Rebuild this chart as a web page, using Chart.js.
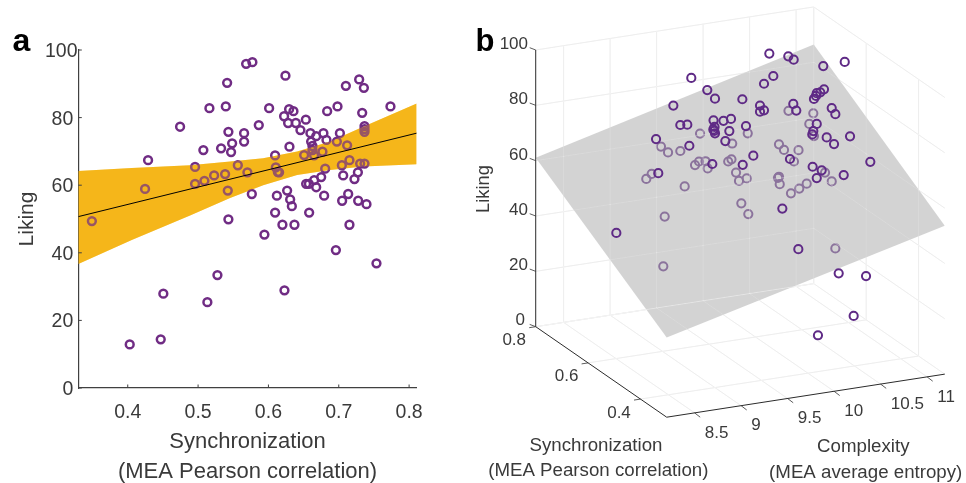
<!DOCTYPE html>
<html><head><meta charset="utf-8">
<style>html,body{margin:0;padding:0;background:#fff}canvas{position:absolute;top:0}#ca{left:0}#cb{left:470px}</style>
<script src="https://cdn.jsdelivr.net/npm/chart.js@4"></script>
</head><body>
<canvas id="ca" width="470" height="483"></canvas>
<canvas id="cb" width="496" height="483"></canvas>
<script>
// ---------- Panel a data ----------
const aSync=[.349,.4246,.4289,.4744,.4957,.4957,.509,.5228,.5384,.5422,.5431,.5565,.5075,.5327,.5469,.5484,.5654,.5654,.5431,.5161,.5394,.5413,.5683,.5701,.5764,.5772,.6242,.601,.5863,.6095,.6299,.6105,.6134,.6152,.6266,.612,.6309,.6333,.6095,.6199,.637,.5943,.6579,.6792,.6536,.6575,.665,.6679,.675,.6807,.6508,.665,.6768,.6626,.6626,.6607,.6597,.6679,.6782,.6825,.6973,.7016,.7119,.7044,.7152,.7063,.7223,.7272,.7304,.7366,.7134,.7048,.7276,.7394,.7152,.6959,.7536,.7366,.7366,.7366,.7333,.7735,.6982,.6835,.6532,.639,.628,.6455,.6223,.6294,.6356,.7101,.729,.7357,.4028,.4469,.4506,.5132,.5275,.6228];
const aLiking=[49.4,58.9,67.4,77.3,65.4,60.4,61.3,62.9,63.3,58.4,49.9,65.9,70.4,70.9,69.8,72.4,72.9,75.4,75.8,82.8,83.3,90.3,95.9,63.8,57.4,96.4,92.4,82.8,77.8,68.8,71.4,65.3,63.9,63.8,58.4,56.9,55.8,53.8,51.9,48.3,48.3,45.4,51.9,56.9,60.4,60.4,61.5,59.4,62.4,64.9,68.9,68.8,69.9,70.4,71.6,72.9,75.4,74.5,75.4,73.4,72.9,75.4,71.8,65.9,67.4,62.9,61.8,63.8,66.4,66.4,57.4,55.4,55.4,54.4,48.3,40.8,36.9,75.8,76.6,77.5,81.4,83.3,83.3,81.9,79.4,78.4,78.4,76.3,80.4,82.5,81.9,89.4,91.3,88.8,12.9,14.4,27.9,25.4,33.4,28.9];
const bandSync=[.3297,.4057,.4886,.5455,.5925,.6408,.6878,.7347,.8108];
const bandUpper=[64.2,65.1,65.9,67,68,70,72.9,77.3,84.2];
const bandLower=[36.7,43.8,51,56.2,60,63,64.5,65.5,66.2];
const fitSync=[.3297,.8108];
const fitLiking=[50.7,75.4];
const aSyncTicks=[.4,.5,.6,.7,.8];
const aLikingTicks=[0,20,40,60,80,100];

// ---------- Panel b data: each ring read on the back wall of the 3-D box
// (complexity along the wall, liking on the liking axis) ----------
const aboveComplexity=[9.873,10.045,10.128,9.68,9.755,9.83,10.112,10.11,10.12,10.128,9.494,9.852,9.518,10.099,9.067,10.712,10.916,10.974,11.292,11.523,10.755,10.655,10.422,11.3,11.26,11.222,11.214,11.192,10.612,10.612,10.655,10.97,11.002,11.383,11.422,10.219,10.3,10.461,10.282,10.239,11.222,11.185,11.174,11.329,11.408,11.58,10.54,10.426,10.934,11.178,11.275,11.222,11.512,11.798,10.852,11.024,11.458,11.752,11.619,11.235,10.123];
const aboveLiking=[89.9,85.5,82.4,79.9,72.9,73,74.6,71.3,70.8,69.9,67.8,65.4,55.5,58.8,33.9,98.7,97.7,96.5,94.2,95.7,90.6,87.8,82.2,85.8,84.7,84.4,83.4,82.3,79.9,77.7,78.2,80.5,78.1,79,76.8,74.4,75.1,72.5,70.7,67.1,73.3,70.7,69.5,68.4,66,68.8,61.8,58.5,60.6,57.8,56.5,53.7,54.8,59.6,42.7,28,19.3,18.3,3.9,-3.1,72.2];
const belowComplexity=[9.967,9.547,9.623,9.755,9.389,9.447,9.913,9.956,10.026,10.049,9.802,9.587,9.572,10.918,11.185,11.142,11.192,10.48,10.313,10.816,10.87,11.026,10.977,10.27,10.305,10.354,10.469,10.386,10.816,10.805,10.824,11.311,11.383,11.114,11.034,10.945,10.411,10.486,11.422];
const belowLiking=[69.8,65.1,63,63.5,53.4,55.2,58.4,59.7,59.8,57.2,50.7,39.8,21.8,78,77.1,73.3,68.9,69.9,66.2,65.9,63.9,63.8,59.7,59.7,60.5,55.7,53.6,52.7,54.2,53.8,51.5,55.7,52.5,51.7,49.9,48.2,44.6,40.7,28.3];
const planeCornerLiking={leftBack:61.1,rightBack:86.4,rightFront:53.6,leftFront:28.8};
const bLikingTicks=[0,20,40,60,80,100];
const bComplexityTicks=[8.5,9,9.5,10,10.5,11];
const bSyncTicks=[.4,.6,.8];
const complexityRange=[8.2,11.19];
const syncRange=[.3,.8];

const FONT='"Liberation Sans", Arial, sans-serif';
const TXT='#3a3a3a';

// ---------- Panel a ----------
const aTicks={id:'aTicks',afterDraw(c){
  const x=c.scales.x,y=c.scales.y,g=c.ctx,A=c.chartArea;
  g.save();g.strokeStyle='#404040';g.lineWidth=1;g.beginPath();
  aSyncTicks.forEach(v=>{const p=x.getPixelForValue(v);g.moveTo(p,A.bottom);g.lineTo(p,A.bottom-3.5);});
  aLikingTicks.forEach(v=>{const p=y.getPixelForValue(v);g.moveTo(A.left,p);g.lineTo(A.left+3.5,p);});
  g.stroke();
  g.fillStyle=TXT;g.textBaseline='middle';g.textAlign='right';g.font='19.5px '+FONT;
  g.fillText('100',77.5,y.getPixelForValue(100)+1.7);
  g.fillStyle='#000';g.textAlign='left';g.textBaseline='alphabetic';g.font='bold 32px '+FONT;
  g.fillText('a',12.5,51);
  g.restore();
}};
new Chart(document.getElementById('ca'),{
  type:'scatter',
  data:{datasets:[
    {label:'Fit',data:fitSync.map((v,i)=>({x:v,y:fitLiking[i]})),showLine:true,borderColor:'#000',borderWidth:1,pointRadius:0,order:0},
    {label:'Band veil upper',data:bandSync.map((v,i)=>({x:v,y:bandUpper[i]})),showLine:true,borderWidth:0,pointRadius:0,fill:'+1',backgroundColor:'rgba(245,183,27,.3)',order:1},
    {label:'Band veil lower',data:bandSync.map((v,i)=>({x:v,y:bandLower[i]})),showLine:true,borderWidth:0,pointRadius:0,order:1},
    {label:'Songs',data:aSync.map((v,i)=>({x:v,y:aLiking[i]})),pointRadius:3.9,pointBorderWidth:2.5,pointBorderColor:'#702c84',pointBackgroundColor:'rgba(0,0,0,0)',clip:false,order:2},
    {label:'Band upper',data:bandSync.map((v,i)=>({x:v,y:bandUpper[i]})),showLine:true,borderWidth:0,pointRadius:0,fill:'+1',backgroundColor:'#f5b71b',order:3},
    {label:'Band lower',data:bandSync.map((v,i)=>({x:v,y:bandLower[i]})),showLine:true,borderWidth:0,pointRadius:0,order:3}
  ]},
  options:{responsive:false,animation:false,
    layout:{autoPadding:false,padding:{top:50,right:53.3}},
    plugins:{legend:{display:false},tooltip:{enabled:false}},
    scales:{
      x:{type:'linear',min:.3297,max:.8108,
        afterBuildTicks:s=>{s.ticks=aSyncTicks.map(v=>({value:v}));},
        afterFit:s=>{s.height=95;},
        grid:{drawOnChartArea:false,drawTicks:false},
        border:{color:'#404040',width:1.2},
        ticks:{autoSkip:false,maxRotation:0,padding:13,color:TXT,font:{family:FONT,size:19.5},callback:v=>v.toFixed(1)},
        title:{display:true,text:['Synchronization','(MEA Pearson correlation)'],color:TXT,font:{family:FONT,size:22,lineHeight:'30px'},padding:{top:0,bottom:-4}}
      },
      y:{type:'linear',min:0,max:100,
        afterBuildTicks:s=>{s.ticks=aLikingTicks.map(v=>({value:v}));},
        afterFit:s=>{s.width=78.3;},
        grid:{drawOnChartArea:false,drawTicks:false},
        border:{color:'#404040',width:1.2},
        ticks:{autoSkip:false,padding:5,labelOffset:1.7,color:TXT,font:{family:FONT,size:19.5},callback:v=>v===100?'':String(v)},
        title:{display:true,text:'Liking',color:TXT,font:{family:FONT,size:21},padding:{top:15,bottom:0}}
      }
    }
  },
  plugins:[aTicks]
});

// ---------- Panel b ----------
const kU=262/93, kVc=14.4/2.767, kVs=181/2.767;
function proj(c,s,z){return {x:c+kU*(syncRange[1]-s),y:z+kVc*(c-complexityRange[0])-kVs*(syncRange[1]-s)};}
const [cL,cR]=complexityRange,[sF,sB]=syncRange;
const gridPts=[];
function seg(arr,a,b){arr.push(proj(...a),proj(...b),{x:null,y:null});}
bLikingTicks.forEach(z=>{seg(gridPts,[cL,sB,z],[cR,sB,z]);seg(gridPts,[cR,sB,z],[cR,sF,z]);});
bComplexityTicks.forEach(c=>{seg(gridPts,[c,sB,0],[c,sB,100]);seg(gridPts,[c,sF,0],[c,sB,0]);});
bSyncTicks.forEach(s=>{seg(gridPts,[cL,s,0],[cR,s,0]);seg(gridPts,[cR,s,0],[cR,s,100]);});
const axisPts=[];
seg(axisPts,[cL,sB,0],[cL,sB,100]);seg(axisPts,[cL,sB,0],[cL,sF,0]);seg(axisPts,[cL,sF,0],[cR,sF,0]);
const P=planeCornerLiking;
const planeTop=[proj(cL,sB,P.leftBack),proj(cR,sB,P.rightBack),proj(cR,sF,P.rightFront)];
const planeBottom=[proj(cL,sB,P.leftBack),proj(cL,sF,P.leftFront),proj(cR,sF,P.rightFront)];

const bText={id:'bText',afterDraw(c){
  const X=c.scales.x,Y=c.scales.y,g=c.ctx;
  const px=p=>[X.getPixelForValue(p.x),Y.getPixelForValue(p.y)];
  g.save();g.strokeStyle='#333';g.lineWidth=.8;g.beginPath();
  bLikingTicks.forEach(z=>{const [a,b]=px(proj(cL,sB,z));g.moveTo(a,b);g.lineTo(a-6,b-2.3);});
  bSyncTicks.forEach(s=>{const [a,b]=px(proj(cL,s,0));g.moveTo(a,b);g.lineTo(a-6.5,b+1);});
  bComplexityTicks.forEach(v=>{const [a,b]=px(proj(v,sF,0));g.moveTo(a,b);g.lineTo(a+5.6,b+4.3);});
  g.stroke();
  g.fillStyle=TXT;g.font='17px '+FONT;g.textBaseline='middle';
  g.textAlign='right';
  bLikingTicks.forEach(z=>{const [a,b]=px(proj(cL,sB,z));g.fillText(String(z),a-(z===0?10.7:7.7),b-5.7+(z===0?-.5:0));});
  g.textAlign='center';
  bSyncTicks.forEach(s=>{const [a,b]=px(proj(cL,s,0));g.fillText(s.toFixed(1),a-21.5,b+13.8);});
  g.textAlign='left';
  bComplexityTicks.forEach(v=>{const [a,b]=px(proj(v,sF,0));g.fillText(String(v),a+10.2,b+20);});
  g.textAlign='center';g.font='18.7px '+FONT;
  g.fillText('Synchronization',126,446);
  g.fillText('(MEA Pearson correlation)',128.3,470.7);
  g.fillText('Complexity',393.3,446.7);
  g.fillText('(MEA average entropy)',395.7,472.7);
  g.save();g.translate(14.3,189);g.rotate(-Math.PI/2);g.font='18.3px '+FONT;g.fillText('Liking',0,0);g.restore();
  g.fillStyle='#000';g.textAlign='left';g.textBaseline='alphabetic';g.font='bold 31px '+FONT;
  g.fillText('b',5.5,51);
  g.restore();
}};
const lineDs=(label,data,color,w,order)=>({label,data,showLine:true,borderColor:color,borderWidth:w,pointRadius:0,order,clip:false,spanGaps:false});
new Chart(document.getElementById('cb'),{
  type:'scatter',
  data:{datasets:[
    {label:'Above plane',data:aboveComplexity.map((v,i)=>({x:v,y:aboveLiking[i]})),pointRadius:4.1,pointBorderWidth:2,pointBorderColor:'#5f2a86',pointBackgroundColor:'rgba(0,0,0,0)',clip:false,order:0},
    lineDs('Axes',axisPts,'#2b2b2b',1,1),
    lineDs('Grid over plane',gridPts,'rgba(255,255,255,.33)',1,2),
    {label:'Plane top',data:planeTop,showLine:true,borderWidth:0,pointRadius:0,fill:'+1',backgroundColor:'rgba(175,175,175,.55)',order:3},
    {label:'Plane bottom',data:planeBottom,showLine:true,borderWidth:0,pointRadius:0,order:3},
    {label:'Below plane',data:belowComplexity.map((v,i)=>({x:v,y:belowLiking[i]})),pointRadius:4.1,pointBorderWidth:2,pointBorderColor:'#5f2a86',pointBackgroundColor:'rgba(0,0,0,0)',clip:false,order:4},
    lineDs('Grid',gridPts,'#e6e6e6',1,5)
  ]},
  options:{responsive:false,animation:false,
    layout:{autoPadding:false},
    plugins:{legend:{display:false},tooltip:{enabled:false}},
    scales:{
      x:{type:'linear',display:false,min:7.4935,max:12.8269},
      y:{type:'linear',display:false,min:-56.49,max:118.07}
    }
  },
  plugins:[bText]
});
</script>
</body></html>
